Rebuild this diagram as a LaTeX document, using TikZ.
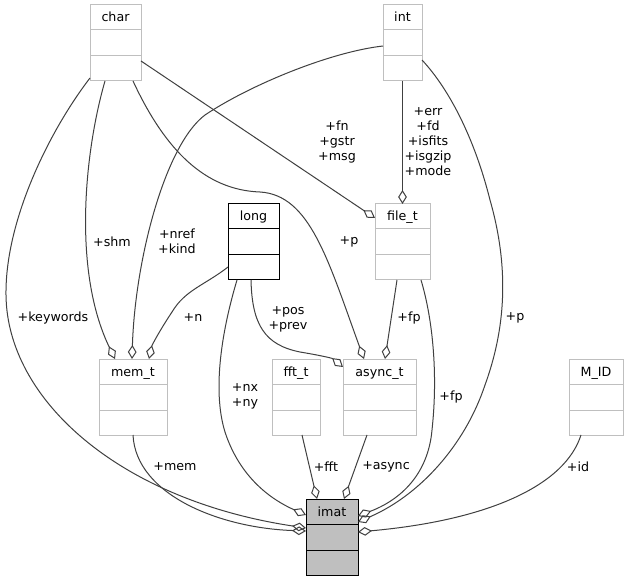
\documentclass[tikz,border=0pt]{standalone}
\usepackage{fontspec}
\setmainfont{DejaVu Sans}
\usepackage{tikz}
\usetikzlibrary{positioning}
\usetikzlibrary{calc}
\usetikzlibrary{arrows.meta}
\definecolor{grey75}{HTML}{BFBFBF}
\definecolor{grey25}{HTML}{404040}
\tikzset{cls/.style={draw=grey75, line width=0.75pt, inner sep=0pt, outer sep=0pt, minimum height=57pt}}
\tikzset{clsdoc/.style={cls, draw=black}}
\tikzset{clsmain/.style={clsdoc, fill=grey75}}
\tikzset{agg/.style={draw=grey25, line width=0.75pt, -{Diamond[open, length=10.5pt, width=6.5pt]}}}
\tikzset{lbl/.style={align=center, inner sep=0pt}}
% style, name, left, top, width, title
\newcommand{\umlclass}[6]{%
\node[#1, minimum width=#5*0.75pt, anchor=north west] (#2) at (#3,#4) {};
\draw[#1] ($(#2.north west)+(0,25)$) -- ($(#2.north east)+(0,25)$);
\draw[#1] ($(#2.north west)+(0,51)$) -- ($(#2.north east)+(0,51)$);
\node[anchor=base, inner sep=0pt] (#2title) at ($(#2.north)+(0,17)$) {#6};
}

\begin{document}
\begin{tikzpicture}[x=0.75pt, y=-0.75pt, font=\fontsize{9.5}{11.25}\selectfont]
\fill[white] (0,0) rectangle (629,581);
\useasboundingbox (0,0) rectangle (629,581);
\foreach \nm/\lx/\ty/\bw/\txt in {char/90/5/51/char, int/383/5/39/int, filet/375/204/55/file\_t,
  memt/99/359/68/mem\_t, fftt/272/359/48/fft\_t, asynct/343/359/73/async\_t, mid/569/359/54/M\_ID} {
\umlclass{cls}{\nm}{\lx}{\ty}{\bw}{\txt}
}
\umlclass{clsdoc}{long}{228}{204}{51}{long}
\umlclass{clsmain}{imat}{306}{499}{52}{imat}

\draw[agg] ($(char.south west)+(0,-3)$) .. controls (50,130) and (5,220) .. (6,295)
  .. controls (7,400) and (120,500) .. ($(imat.north west)+(0,29)$);
\draw[agg] ($(char.south west)+(15,0)$) .. controls (85,150) and (72,270) .. ($(memt.north west)+(16,0)$);
\draw[agg] ($(int.north west)+(0,41)$) .. controls (330,52) and (250,85) .. (205,115)
  .. controls (165,145) and (135,260) .. ($(memt.north west)+(33,0)$);
\draw[agg] ($(long.south west)+(0,-13)$) .. controls (205,285) and (185,290) .. (172,312)
  .. controls (160,330) and (152,345) .. ($(memt.north west)+(50,0)$);
\draw[agg] ($(char.south east)+(0,-20)$) -- ($(filet.north west)+(0,14)$);
\draw[agg] ($(char.south west)+(43,0)$) .. controls (165,150) and (205,190) .. (260,192)
  .. controls (310,195) and (328,260) .. ($(asynct.north west)+(21,0)$);
\draw[agg] (int.south) -- (filet.north);
\draw[agg] ($(int.south east)+(0,-21)$) .. controls (450,90) and (475,140) .. (490,200)
  .. controls (510,270) and (505,330) .. (485,385)
  .. controls (465,445) and (420,495) .. ($(imat.north east)+(0,23)$);
\draw[agg] ($(filet.south west)+(22,0)$) -- ($(asynct.north west)+(42,0)$);
\draw[agg] ($(filet.south east)+(-9,0)$) .. controls (433,320) and (438,375) .. (432,430)
  .. controls (428,475) and (400,500) .. ($(imat.north east)+(0,17)$);
\draw[agg] ($(long.south west)+(23,0)$) .. controls (252,325) and (265,345) .. (300,352)
  .. controls (318,355) and (332,358) .. ($(asynct.north west)+(0,8)$);
\draw[agg] ($(long.south west)+(9,0)$) .. controls (222,330) and (212,390) .. (225,432)
  .. controls (240,478) and (272,500) .. ($(imat.north west)+(0,16)$);
\draw[agg] ($(memt.south west)+(34,0)$) .. controls (136,495) and (220,528) .. ($(imat.north west)+(0,32)$);
\draw[agg] ($(fftt.south west)+(30,0)$) -- ($(imat.north west)+(11,0)$);
\draw[agg] ($(asynct.south west)+(24,0)$) -- ($(imat.north west)+(38,0)$);
\draw[agg] ($(mid.south west)+(12,0)$) .. controls (565,485) and (490,520) .. ($(imat.north east)+(0,33)$);

\node[lbl] (lkeywords) at (53,318) {+keywords};
\node[lbl] (lshm) at (112,242) {+shm};
\node[lbl] (lnref) at (177,241) {+nref\\+kind};
\node[lbl] (ln) at (193,318) {+n};
\node[lbl] (lfn) at (337,142) {+fn\\+gstr\\+msg};
\node[lbl] (lerr) at (428,142) {+err\\+fd\\+isfits\\+isgzip\\+mode};
\node[lbl] (lpa) at (349,242) {+p};
\node[lbl] (lpos) at (288,319) {+pos\\+prev};
\node[lbl] (lfpa) at (409,318) {+fp};
\node[lbl] (lpb) at (515,318) {+p};
\node[lbl] (lfpb) at (451,397) {+fp};
\node[lbl] (lnx) at (245,396) {+nx\\+ny};
\node[lbl] (lmem) at (175,467) {+mem};
\node[lbl] (lfft) at (326,467) {+fft};
\node[lbl] (lasync) at (386,467) {+async};
\node[lbl] (lid) at (578,467) {+id};
\end{tikzpicture}
\end{document}
